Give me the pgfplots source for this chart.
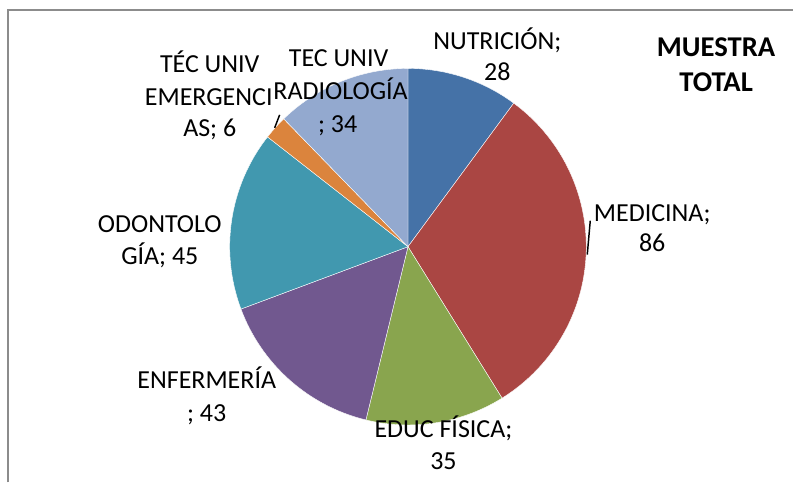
\documentclass[border=0pt]{standalone}
\usepackage{pgfplots}
\pgfplotsset{compat=1.18}
\usepackage{fontspec}
\setmainfont{Carlito}
\definecolor{cA}{HTML}{4572A7}
\definecolor{cB}{HTML}{AA4643}
\definecolor{cC}{HTML}{89A54E}
\definecolor{cD}{HTML}{71588F}
\definecolor{cE}{HTML}{4198AF}
\definecolor{cF}{HTML}{DB843D}
\definecolor{cG}{HTML}{93A9CF}
% values (clockwise from 12 o'clock): Nutricion 28, Medicina 86, Educ Fisica 35,
% Enfermeria 43, Odontologia 45, Tec Univ Emergencias 6, Tec Univ Radiologia 34
\def\total{277}
\def\cx{408.5}
\def\cy{236}
\def\rr{178.5}
\newcommand\slice[3]{% #1 cumulative before, #2 value, #3 colour
  \pgfmathsetmacro\angA{90-(#1+#2)/\total*360}%
  \pgfmathsetmacro\angB{90-(#1)/\total*360}%
  \edef\doslice{\noexpand\addplot[fill=#3,draw=white,line width=0.3pt,domain=\angA:\angB,samples=80,variable=\noexpand\t]
    ({\cx+\rr*cos(\noexpand\t)},{\cy+\rr*sin(\noexpand\t)}) -- (axis cs:\cx,\cy) -- cycle;}%
  \doslice
}
\newcommand\lbl[3]{\node[anchor=base,inner sep=0pt,font=\fontsize{19.5}{24}\selectfont] at (axis cs:#1,{483-#2}) {#3};}
\begin{document}
\begin{tikzpicture}
\begin{axis}[
  width=595.5pt, height=362.25pt, scale only axis,
  xmin=0, xmax=794, ymin=0, ymax=483,
  hide axis, clip=false,
]
\path (rel axis cs:0,0) rectangle (rel axis cs:1,1);
\slice{0}{28}{cA}
\slice{28}{86}{cB}
\slice{114}{35}{cC}
\slice{149}{43}{cD}
\slice{192}{45}{cE}
\slice{237}{6}{cF}
\slice{243}{34}{cG}
% frame
\draw[color=black!45, line width=1.5pt] (axis cs:8,0) -- (axis cs:8,473) -- (axis cs:794,473);
% leader lines
\draw[black, line width=1.1pt] (axis cs:588,{483-255}) -- (axis cs:591,{483-221});
\draw[black, line width=1.1pt] (axis cs:275,{483-128}) -- (axis cs:280,{483-115});
% labels
\lbl{498}{50}{NUTRICIÓN;}
\lbl{498}{81}{28}
\lbl{653}{222}{MEDICINA;}
\lbl{653}{252}{86}
\lbl{444}{438}{EDUC FÍSICA;}
\lbl{444}{470}{35}
\lbl{207}{389}{ENFERMERÍA}
\lbl{207}{422}{; 43}
\lbl{160}{233}{ODONTOLO}
\lbl{160}{265}{GÍA; 45}
\lbl{210}{73}{TÉC UNIV}
\lbl{209}{106}{EMERGENCI}
\lbl{210}{137}{AS; 6}
\lbl{339}{67}{TEC UNIV}
\lbl{341}{100}{RADIOLOGÍA}
\lbl{338}{133}{; 34}
\node[anchor=base,inner sep=0pt,font=\fontsize{21.5}{26}\selectfont\bfseries] at (axis cs:717,{483-57}) {MUESTRA};
\node[anchor=base,inner sep=0pt,font=\fontsize{21.5}{26}\selectfont\bfseries] at (axis cs:717,{483-92}) {TOTAL};
\end{axis}
\end{tikzpicture}
\end{document}
